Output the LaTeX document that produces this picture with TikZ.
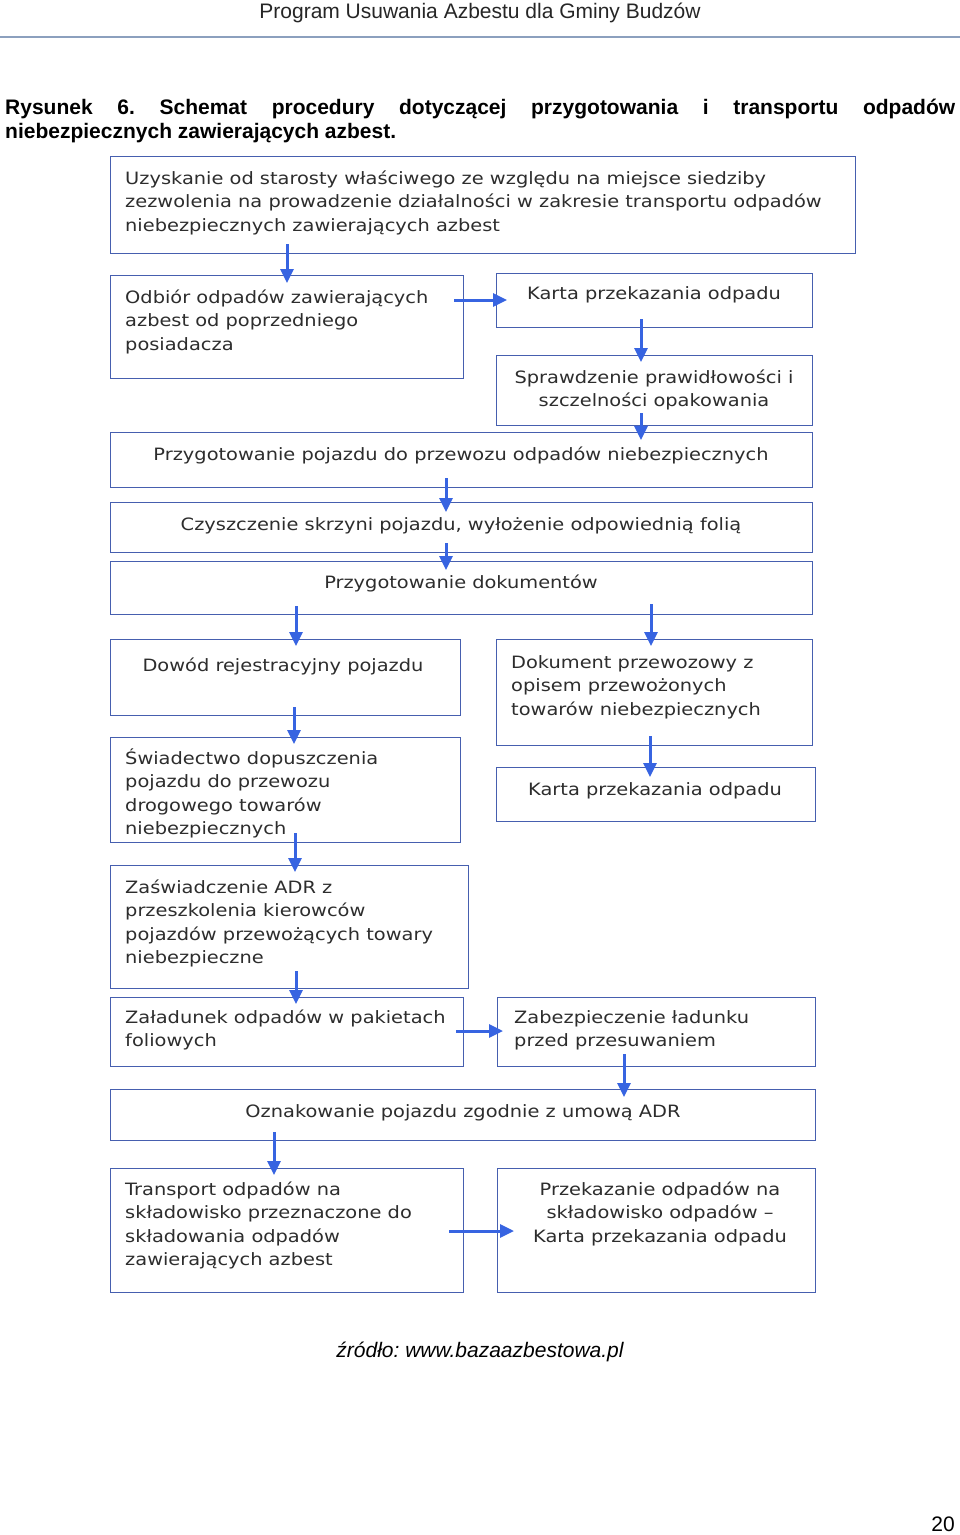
\documentclass[tikz,border=0pt]{standalone}
\usepackage{fontspec}
\setmainfont{Liberation Sans}
\newfontfamily\vfont[FakeStretch=1.14]{DejaVu Sans}
\usetikzlibrary{arrows.meta}
\definecolor{boxblue}{RGB}{70,95,175}
\definecolor{arrblue}{RGB}{55,100,225}
\definecolor{rulecol}{RGB}{140,160,190}
\definecolor{txtgray}{RGB}{45,45,45}
\newcommand\mkbox[5]{\node[box, anchor=north west, minimum width={#4-#2}, minimum height={#5-#3}] (#1) at (#2,#3) {};}
\frenchspacing
\begin{document}
\begin{tikzpicture}[x=1pt,y=-1pt,
  box/.style={draw=boxblue, line width=1.3pt, inner sep=0pt, fill=none},
  txt/.style={inner sep=0pt, text=txtgray, font=\vfont\fontsize{17}{23.5}\selectfont},
  ltxt/.style={txt, align=left, anchor=base west},
  ctxt/.style={txt, align=center, anchor=base},
  arr/.style={draw=arrblue, line width=3pt, -{Triangle[width=13pt,length=14pt]}},
  pagetxt/.style={inner sep=0pt, font=\fontsize{21}{24}\selectfont}]
\useasboundingbox[fill=white] (0,0) rectangle (960,1535);

% header
\node[pagetxt, anchor=base, text=black!85] (hdr) at (480,18) {Program Usuwania Azbestu dla Gminy Budzów};
\coordinate (rl) at (0,37);
\coordinate (rr) at (960,37);
\draw[rulecol, line width=1.2pt] (rl) -- (rr);

% caption
\node[pagetxt, anchor=base west, font=\bfseries\fontsize{21}{24}\selectfont] (cap1) at (5,114)
  {\makebox[950pt][s]{Rysunek 6. Schemat procedury dotyczącej przygotowania i transportu odpadów}};
\node[pagetxt, anchor=base west, font=\bfseries\fontsize{21}{24}\selectfont] (cap2) at (5,138)
  {niebezpiecznych zawierających azbest.};

% boxes
\mkbox{b1}{110}{156}{855}{253}
\mkbox{b2}{110}{275}{463}{378}
\mkbox{b3}{496}{273}{812}{327}
\mkbox{b4}{496}{355}{812}{425}
\mkbox{b5}{110}{432}{812}{487}
\mkbox{b6}{110}{502}{812}{552}
\mkbox{b7}{110}{561}{812}{614}
\mkbox{b8}{110}{639}{460}{715}
\mkbox{b9}{496}{639}{812}{745}
\mkbox{b10}{496}{767}{815}{821}
\mkbox{b11}{110}{737}{460}{842}
\mkbox{b12}{110}{865}{468}{988}
\mkbox{b13}{110}{997}{463}{1066}
\mkbox{b14}{497}{997}{815}{1066}
\mkbox{b15}{110}{1089}{815}{1140}
\mkbox{b16}{110}{1168}{463}{1292}
\mkbox{b17}{497}{1168}{815}{1292}

% texts (base anchor = baseline of the last line)
\node[ltxt] (t1) at (125,231) {Uzyskanie od starosty właściwego ze względu na miejsce siedziby\\zezwolenia na prowadzenie działalności w zakresie transportu odpadów\\niebezpiecznych zawierających azbest};
\node[ltxt] (t2) at (125,350) {Odbiór odpadów zawierających\\azbest od poprzedniego\\posiadacza};
\node[ctxt] (t3) at (654,299) {Karta przekazania odpadu};
\node[ctxt] (t4) at (654,406.5) {Sprawdzenie prawidłowości i\\szczelności opakowania};
\node[ctxt] (t5) at (461,460) {Przygotowanie pojazdu do przewozu odpadów niebezpiecznych};
\node[ctxt] (t6) at (461,530) {Czyszczenie skrzyni pojazdu, wyłożenie odpowiednią folią};
\node[ctxt] (t7) at (461,588) {Przygotowanie dokumentów};
\node[ctxt] (t8) at (283,671) {Dowód rejestracyjny pojazdu};
\node[ltxt] (t9) at (511,715) {Dokument przewozowy z\\opisem przewożonych\\towarów niebezpiecznych};
\node[ctxt] (t10) at (655,795) {Karta przekazania odpadu};
\node[ltxt] (t11) at (125,834.5) {Świadectwo dopuszczenia\\pojazdu do przewozu\\drogowego towarów\\niebezpiecznych};
\node[ltxt] (t12) at (125,963.5) {Zaświadczenie ADR z\\przeszkolenia kierowców\\pojazdów przewożących towary\\niebezpieczne};
\node[ltxt] (t13) at (125,1046.5) {Załadunek odpadów w pakietach\\foliowych};
\node[ltxt] (t14) at (514,1046.5) {Zabezpieczenie ładunku\\przed przesuwaniem};
\node[ctxt] (t15) at (463,1117) {Oznakowanie pojazdu zgodnie z umową ADR};
\node[ltxt] (t16) at (125,1265.5) {Transport odpadów na\\składowisko przeznaczone do\\składowania odpadów\\zawierających azbest};
\node[ctxt] (t17) at (660,1242) {Przekazanie odpadów na\\składowisko odpadów –\\Karta przekazania odpadu};

% arrow columns / rows
\coordinate (c1) at (287,0);
\coordinate (c2) at (641,0);
\coordinate (c3) at (446,0);
\coordinate (c4) at (296,0);
\coordinate (c5) at (651,0);
\coordinate (c6) at (294,0);
\coordinate (c7) at (650,0);
\coordinate (c8) at (295,0);
\coordinate (c9) at (624,0);
\coordinate (c10) at (274,0);
\coordinate (r1) at (0,300);
\coordinate (r2) at (0,1031);
\coordinate (r3) at (0,1231);

% arrows
\draw[arr, shorten <=-10pt, shorten >=-8pt] (b1.south -| c1) -- (b2.north -| c1);
\draw[arr, shorten <=-10pt, shorten >=-11pt] (b2.east |- r1) -- (b3.west |- r1);
\draw[arr, shorten <=-9pt, shorten >=-7pt] (b3.south -| c2) -- (b4.north -| c2);
\draw[arr, shorten <=-13pt, shorten >=-8pt] (b4.south -| c2) -- (b5.north -| c2);
\draw[arr, shorten <=-10pt, shorten >=-10pt] (b5.south -| c3) -- (b6.north -| c3);
\draw[arr, shorten <=-10pt, shorten >=-9pt] (b6.south -| c3) -- (b7.north -| c3);
\draw[arr, shorten <=-9pt, shorten >=-7pt] (b7.south -| c4) -- (b8.north -| c4);
\draw[arr, shorten <=-11pt, shorten >=-7pt] (b7.south -| c5) -- (b9.north -| c5);
\draw[arr, shorten <=-9pt, shorten >=-7pt] (b8.south -| c6) -- (b11.north -| c6);
\draw[arr, shorten <=-10pt, shorten >=-10pt] (b9.south -| c7) -- (b10.north -| c7);
\draw[arr, shorten <=-10pt, shorten >=-7pt] (b11.south -| c8) -- (b12.north -| c8);
\draw[arr, shorten <=-18pt, shorten >=-7pt] (b12.south -| c4) -- (b13.north -| c4);
\draw[arr, shorten <=-8pt, shorten >=-6pt] (b13.east |- r2) -- (b14.west |- r2);
\draw[arr, shorten <=-13pt, shorten >=-8pt] (b14.south -| c9) -- (b15.north -| c9);
\draw[arr, shorten <=-9pt, shorten >=-7pt] (b15.south -| c10) -- (b16.north -| c10);
\draw[arr, shorten <=-15pt, shorten >=-17pt] (b16.east |- r3) -- (b17.west |- r3);

% footer
\node[pagetxt, anchor=base, font=\itshape\fontsize{21}{24}\selectfont] (src) at (480,1357) {źródło: www.bazaazbestowa.pl};
\node[pagetxt, anchor=base east] (pg) at (955,1531) {20};
\end{tikzpicture}
\end{document}
